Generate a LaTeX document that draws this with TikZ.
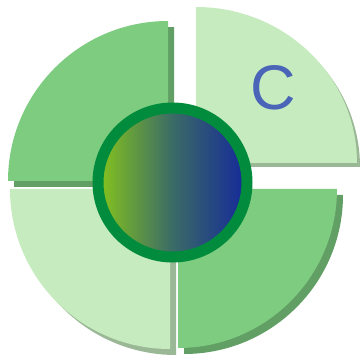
\documentclass[tikz,border=0pt]{standalone}
\usepackage{fontspec}
\newfontfamily\labelfont{Liberation Sans}
\definecolor{midgreen}{HTML}{7DCC80}
\definecolor{lightgreen}{HTML}{C6EBBE}
\definecolor{shadowgreen}{HTML}{629F65}
\definecolor{shadowlight}{HTML}{9AB896}
\definecolor{ringgreen}{HTML}{008C3C}
\definecolor{gradleft}{HTML}{86C41C}
\definecolor{gradmid}{HTML}{3A6B66}
\definecolor{gradright}{HTML}{14289A}
\definecolor{letterblue}{HTML}{4A64B8}
\tikzset{
  seg/.style={fill=#1, draw=none},
}
\begin{document}
\begin{tikzpicture}[x=1pt,y=1pt]
\useasboundingbox (0,0) rectangle (360,361);
% top-left
\fill[shadowgreen] (174,174) -- ++(-160,0) arc[start angle=180,end angle=90,radius=160] -- cycle;
\fill[midgreen] (168,180) -- ++(-160,0) arc[start angle=180,end angle=90,radius=160] -- cycle;
% top-right (exploded)
\fill[shadowlight] (199,194) -- ++(161,0) arc[start angle=0,end angle=90,x radius=161,y radius=156] -- cycle;
\fill[lightgreen] (196,198) -- ++(161,0) arc[start angle=0,end angle=90,x radius=161,y radius=156] -- cycle;
% bottom-left
\fill[shadowlight] (176,166) -- ++(-160,0) arc[start angle=180,end angle=270,radius=160] -- cycle;
\fill[lightgreen] (170,172) -- ++(-160,0) arc[start angle=180,end angle=270,radius=160] -- cycle;
% bottom-right
\fill[shadowgreen] (184,166) -- ++(159,0) arc[start angle=0,end angle=-90,radius=159] -- cycle;
\fill[midgreen] (178,172) -- ++(159,0) arc[start angle=0,end angle=-90,radius=159] -- cycle;
% center
\node[circle, minimum size=149pt, inner sep=0pt, draw=ringgreen, line width=11pt,
      left color=gradleft, right color=gradright, middle color=gradmid] (hub) at (172.5,178.5) {};
\node[text=letterblue, font=\labelfont\fontsize{63}{63}\selectfont, inner sep=0pt] (c) at (273,273) {C};
\end{tikzpicture}
\end{document}
